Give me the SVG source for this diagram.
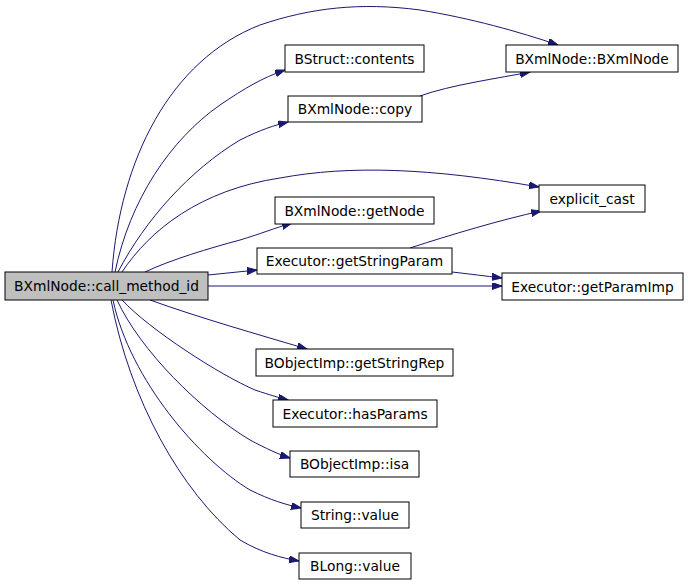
<svg xmlns="http://www.w3.org/2000/svg" width="688" height="584" viewBox="0 0 688 584">
<style>
.n rect{fill:#ffffff;stroke:#000000;stroke-width:1}
.n.main rect{fill:#bfbfbf}
.n text{font-family:"DejaVu Sans",sans-serif;font-size:13.8px;fill:#000;text-anchor:middle}
.e path{fill:none;stroke:#191970;stroke-width:1;marker-end:url(#arr)}
</style>
<defs>
<marker id="arr" markerUnits="userSpaceOnUse" markerWidth="11" markerHeight="8" refX="10" refY="3.5" orient="auto">
<path d="M0,0 L10,3.5 L0,7 z" fill="#191970" stroke="#191970" stroke-width="1"/>
</marker>
</defs>
<rect width="688" height="584" fill="#ffffff"/>
<g id="edges" class="e">
<path d="M112,272 C120,160 170,60 260,25 C310,8 360,2 420,10 C470,18 520,32 558,45"/>
<path d="M115,272 C130,200 170,140 220,105 C245,88 262,78 285,70"/>
<path d="M118,272 C145,220 190,170 240,140 C260,130 275,125 288,122"/>
<path d="M122,272 C150,230 200,190 280,178 C350,165 430,168 539,187"/>
<path d="M145,272 C170,260 210,248 240,240 C260,234 275,228 292,223"/>
<path d="M208,275 L257,270"/>
<path d="M208,286 L502,286"/>
<path d="M410,248 C450,235 500,220 541,211"/>
<path d="M452,272 C470,274 485,276 502,278"/>
<path d="M420,96 C450,85 500,78 530,72"/>
<path d="M150,300 C200,318 260,335 307,349"/>
<path d="M122,300 C150,330 220,375 255,390 C270,395 280,398 288,400"/>
<path d="M117,300 C140,350 200,410 250,440 C265,448 280,455 290,458"/>
<path d="M113,300 C130,380 200,460 250,490 C270,500 287,505 301,508"/>
<path d="M111,300 C130,400 180,490 240,540 C262,553 282,558 299,561"/>
</g>
<g id="n_main" class="n main"><rect x="5" y="272" width="203" height="28"/><text x="106.5" y="291">BXmlNode::call_method_id</text></g>
<g id="n_contents" class="n"><rect x="285" y="45" width="139" height="27"/><text x="354.5" y="63.5">BStruct::contents</text></g>
<g id="n_bxmlnode" class="n"><rect x="506" y="45" width="172" height="27"/><text x="592" y="63.5">BXmlNode::BXmlNode</text></g>
<g id="n_copy" class="n"><rect x="288" y="96" width="134" height="26"/><text x="355" y="114">BXmlNode::copy</text></g>
<g id="n_explicit_cast" class="n"><rect x="539" y="185" width="106" height="27"/><text x="592" y="203.5">explicit_cast</text></g>
<g id="n_getnode" class="n"><rect x="275" y="197" width="159" height="27"/><text x="354.5" y="215.5">BXmlNode::getNode</text></g>
<g id="n_getstringparam" class="n"><rect x="257" y="248" width="195" height="26"/><text x="354.5" y="266">Executor::getStringParam</text></g>
<g id="n_getparamimp" class="n"><rect x="502" y="273" width="181" height="27"/><text x="592.5" y="291.5">Executor::getParamImp</text></g>
<g id="n_getstringrep" class="n"><rect x="256" y="349" width="197" height="27"/><text x="354.5" y="367.5">BObjectImp::getStringRep</text></g>
<g id="n_hasparams" class="n"><rect x="273" y="400" width="164" height="27"/><text x="355" y="418.5">Executor::hasParams</text></g>
<g id="n_isa" class="n"><rect x="290" y="451" width="129" height="26"/><text x="354.5" y="469">BObjectImp::isa</text></g>
<g id="n_string_value" class="n"><rect x="301" y="502" width="108" height="26"/><text x="355" y="520">String::value</text></g>
<g id="n_blong_value" class="n"><rect x="299" y="553" width="112" height="26"/><text x="355" y="571">BLong::value</text></g>
</svg>
